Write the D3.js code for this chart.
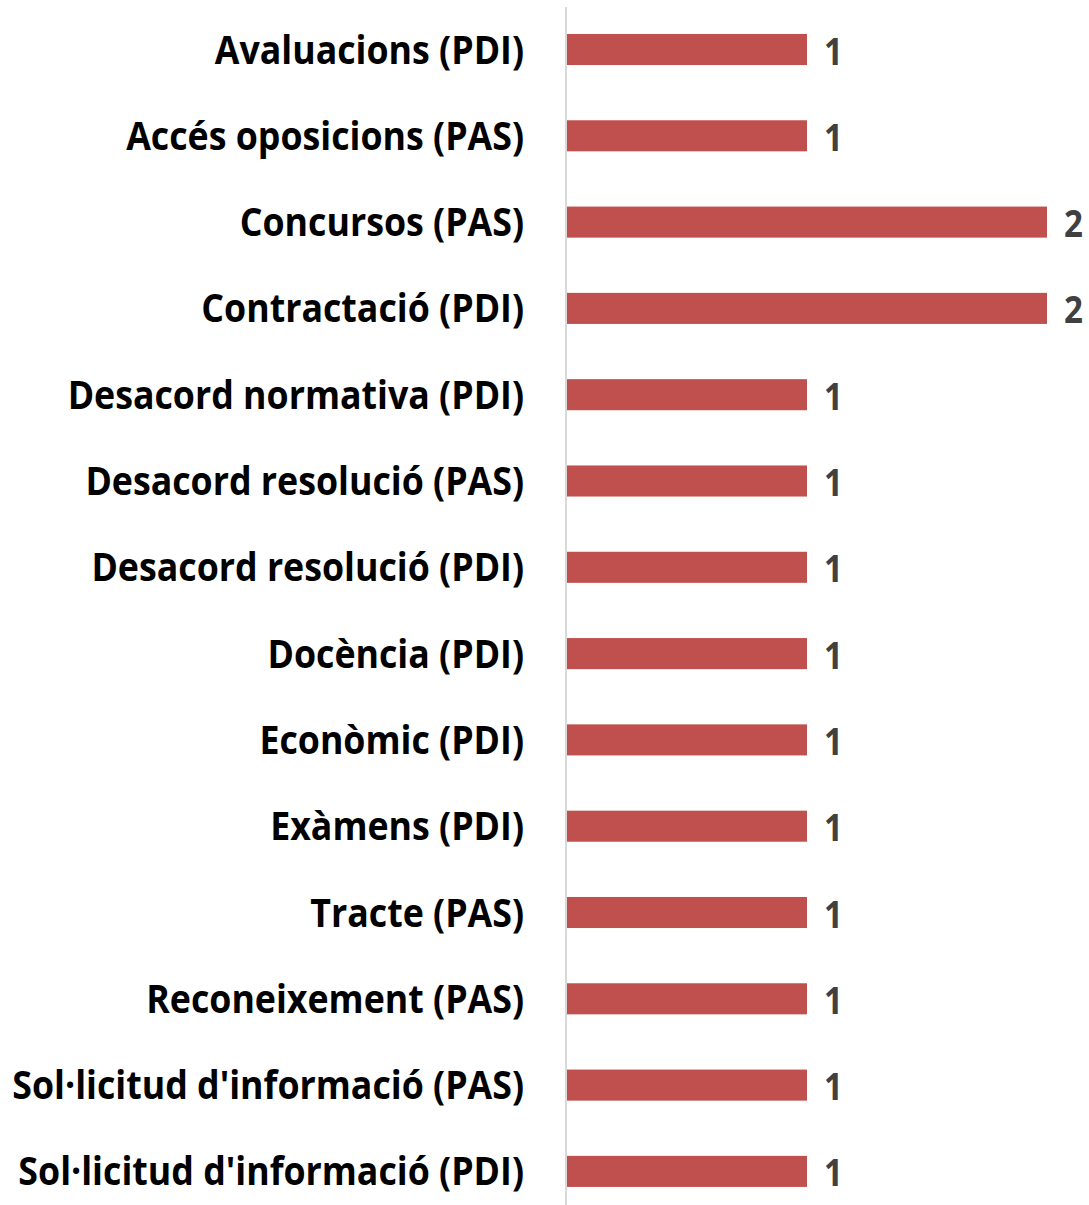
<!DOCTYPE html>
<html>
<head>
<meta charset="utf-8">
<script src="https://cdn.jsdelivr.net/npm/d3@7"></script>
<style>
  html, body { margin: 0; padding: 0; background: #fff; }
  svg { display: block; }
</style>
</head>
<body>
<svg id="chart" width="1089" height="1205"></svg>
<script>
const categories = [
  "Avaluacions (PDI)",
  "Accés oposicions (PAS)",
  "Concursos (PAS)",
  "Contractació (PDI)",
  "Desacord normativa (PDI)",
  "Desacord resolució (PAS)",
  "Desacord resolució (PDI)",
  "Docència (PDI)",
  "Econòmic (PDI)",
  "Exàmens (PDI)",
  "Tracte (PAS)",
  "Reconeixement (PAS)",
  "Sol·licitud d'informació (PAS)",
  "Sol·licitud d'informació (PDI)"
];
const values = [1, 1, 2, 2, 1, 1, 1, 1, 1, 1, 1, 1, 1, 1];

const svg = d3.select("#chart");
const x0 = 567;
const x = d3.scaleLinear().domain([0, 2]).range([x0, 1047]);
const step = 86.3;
const y = d3.scaleBand()
  .domain(categories)
  .range([49.5 - step / 2, 49.5 - step / 2 + step * categories.length])
  .paddingInner(0.64)
  .paddingOuter(0.32);

// axis line
svg.append("line")
  .attr("x1", x0 - 1).attr("x2", x0 - 1)
  .attr("y1", 7).attr("y2", 1205)
  .attr("stroke", "#d9d9d9").attr("stroke-width", 2);

const data = categories.map((c, i) => ({ c, v: values[i] }));

svg.selectAll("rect.bar").data(data).join("rect")
  .attr("class", "bar")
  .attr("x", x(0))
  .attr("y", d => y(d.c))
  .attr("width", d => x(d.v) - x(0))
  .attr("height", y.bandwidth())
  .attr("fill", "#C0504D");

const fontFam = "'Open Sans', Lato, sans-serif";
const labels = svg.selectAll("text.cat").data(data).join("text")
  .attr("class", "cat")
  .attr("text-anchor", "end")
  .attr("font-family", fontFam)
  .attr("font-weight", "bold")
  .attr("font-size", 40)
  .attr("fill", "#000")
  .text(d => d.c);

// compress horizontally to mimic condensed face: longest label spans 12..524
let maxW = 0;
labels.each(function () { maxW = Math.max(maxW, this.getComputedTextLength()); });
const sx = Math.min(1, (524 - 12) / maxW);
labels.attr("transform", d => `translate(524,${y(d.c) + y.bandwidth() / 2 + 14}) scale(${sx},1)`);

const vals = svg.selectAll("text.val").data(data).join("text")
  .attr("class", "val")
  .attr("font-family", fontFam)
  .attr("font-weight", "bold")
  .attr("font-size", 37)
  .attr("fill", "#404040")
  .text(d => d.v);
vals.attr("transform", d => `translate(${x(d.v) + 17},${y(d.c) + y.bandwidth() / 2 + 15}) scale(${sx},1)`);
</script>
</body>
</html>
